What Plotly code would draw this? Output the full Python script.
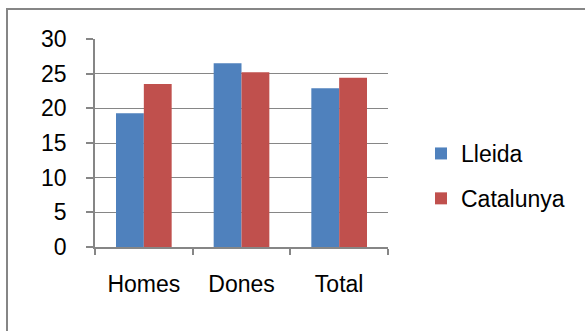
import plotly.graph_objects as go

categories = ["Homes", "Dones", "Total"]
lleida = [19.3, 26.5, 22.9]
catalunya = [23.5, 25.2, 24.4]
y_ticks = [0, 5, 10, 15, 20, 25, 30]

W, H = 585, 331
L, R, T, B = 95, 197, 39, 84
pw, ph = W - L - R, H - T - B

FONT = dict(family="Liberation Sans, Arial, sans-serif", size=23, color="#000000")
GREY = "#868686"

fig = go.Figure()
fig.add_trace(go.Bar(x=categories, y=lleida, name="Lleida", legendgroup="a",
                     marker=dict(color="#4F81BD", line=dict(width=0))))
fig.add_trace(go.Bar(x=categories, y=catalunya, name="Catalunya", legendgroup="b",
                     marker=dict(color="#C0504D", line=dict(width=0))))

fig.update_layout(
    width=W, height=H,
    margin=dict(l=L, r=R, t=T, b=B, autoexpand=False),
    paper_bgcolor="white", plot_bgcolor="white",
    font=FONT,
    barmode="group", bargap=0.43, bargroupgap=0,
    showlegend=True,
    legend=dict(x=(421 - L) / pw, y=(T + ph - 176) / ph, xanchor="left", yanchor="middle",
                font=FONT, traceorder="grouped", tracegroupgap=12, bgcolor="rgba(0,0,0,0)"),
    xaxis=dict(showline=True, linecolor=GREY, linewidth=1.5, ticks="outside", tickson="boundaries",
               ticklen=6, tickcolor=GREY, tickwidth=1.5, showgrid=False, ticklabelstandoff=16,
               tickfont=FONT),
    yaxis=dict(range=[0, 30], tickvals=y_ticks, showline=True, linecolor=GREY, linewidth=1.5,
               ticks="outside", ticklen=7, tickcolor=GREY, tickwidth=1.5, showgrid=True,
               gridcolor=GREY, gridwidth=1, zeroline=False, tickfont=FONT, ticklabelstandoff=15),
    shapes=[dict(type="rect", xref="paper", yref="paper",
                 x0=(7 - L) / pw, x1=(W + 20 - L) / pw,
                 y0=-(H + 20 - (T + ph)) / ph, y1=1 + (T - 9) / ph,
                 line=dict(color=GREY, width=2), fillcolor="rgba(0,0,0,0)", layer="below")],
)

fig.write_html("out.html")
